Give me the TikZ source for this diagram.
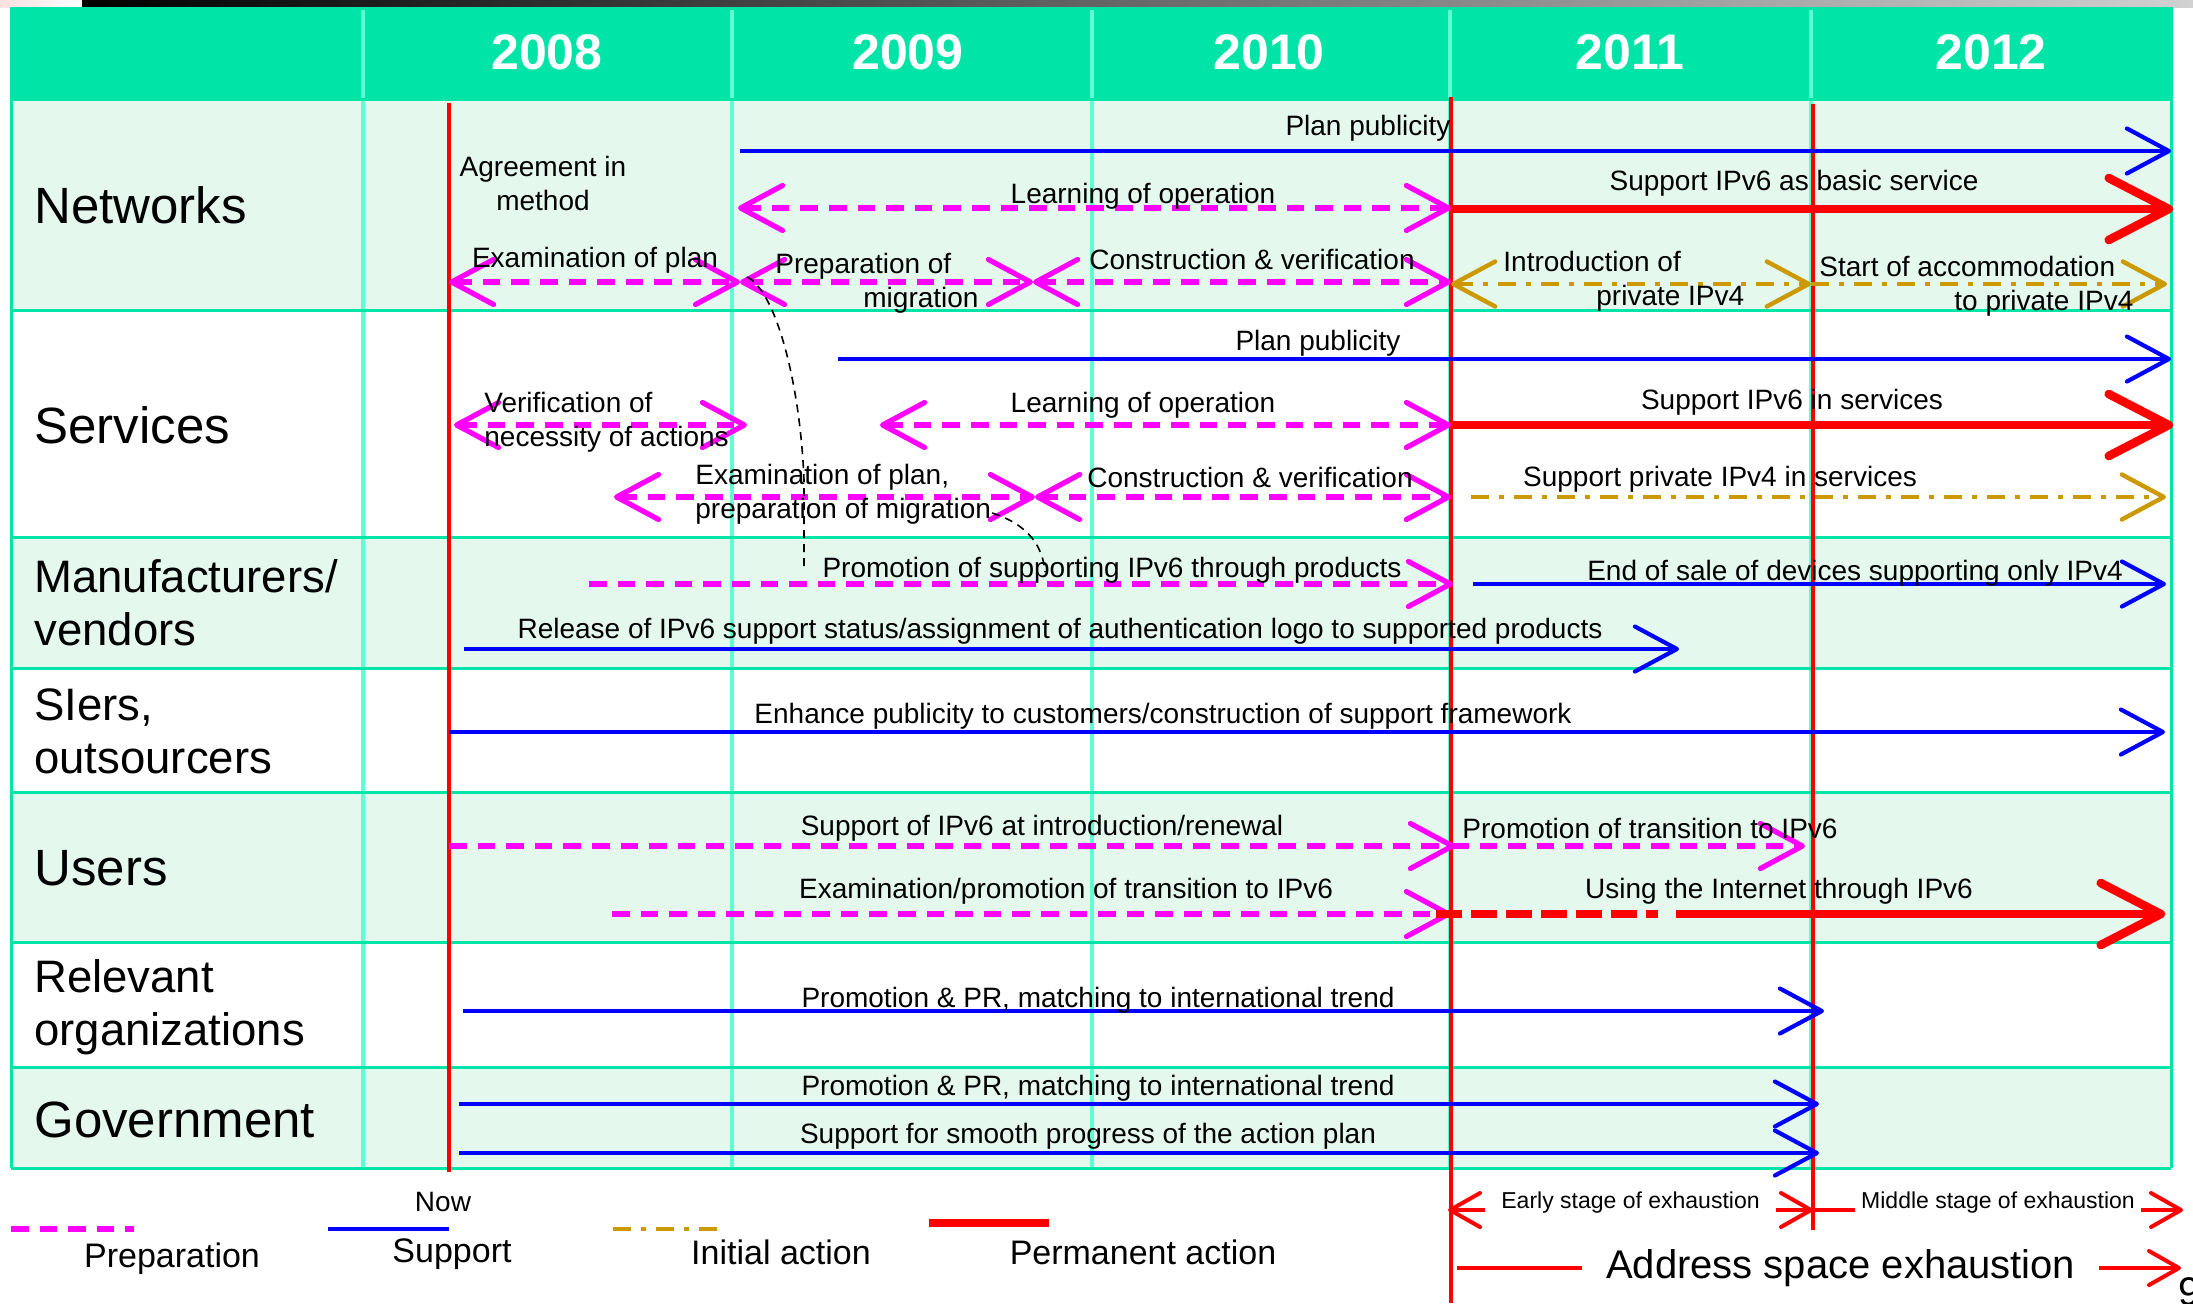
\documentclass[tikz,border=0pt]{standalone}
\usepackage{fontspec}
\setmainfont{Liberation Sans}
\usetikzlibrary{arrows.meta}
\definecolor{headgreen}{RGB}{0,228,168}
\definecolor{rowgreen}{RGB}{228,248,238}
\definecolor{gridaqua}{RGB}{95,255,212}
\definecolor{prepmag}{RGB}{255,0,255}
\definecolor{suppblue}{RGB}{0,0,255}
\definecolor{initgold}{RGB}{204,153,0}
\begin{document}
\begin{tikzpicture}[x=0.5pt,y=-0.5pt,every node/.style={inner sep=0pt},
		lbl/.style={font=\fontsize{14}{17}\selectfont,text height=10pt,text depth=0pt},
		lbltwo/.style={font=\fontsize{14}{17}\selectfont,align=left,anchor=west},
		rowname/.style={anchor=west,align=left,font=\fontsize{25.5}{30}\selectfont},
		rowtwo/.style={anchor=west,align=left,font=\fontsize{22.75}{26.5}\selectfont},
		lgnd/.style={font=\fontsize{17}{20}\selectfont,text height=12.2pt,text depth=0pt},
		stage/.style={fill=white,text=black,inner ysep=2pt,yshift=3.5pt,font=\fontsize{11.5}{13}\selectfont},
		prep/.style={prepmag,line width=2.6pt,dash pattern=on 8.8pt off 5.5pt},
		supp/.style={suppblue,line width=2.1pt},
		init/.style={initgold,line width=2.2pt,dash pattern=on 9pt off 5pt on 2.5pt off 5pt},
		perm/.style={red,line width=4.3pt},
		nowline/.style={red,line width=2.3pt},
		barb/.tip={Straight Barb[length=21pt,width=22.5pt,round]},
		bigbarb/.tip={Straight Barb[length=30pt,width=31pt,round]},
		smallbarb/.tip={Straight Barb[length=15pt,width=17pt,round]}]
	\useasboundingbox (0,0) rectangle (2193,1303);
	% top bar
	\shade[left color=red!12,right color=white] (0,0) rectangle (82,7);
	\shade[left color=black,right color=black!18] (82,0) rectangle (2193,7);
	% table
	\fill[headgreen] (11,7) rectangle (2171,99);
	\foreach \ya/\yb/\c in {99/310/rowgreen, 310/537/white, 537/668/rowgreen, 668/792/white,
		792/942/rowgreen, 942/1067/white, 1067/1168/rowgreen}
		\fill[\c] (11,\ya) rectangle (2171,\yb);
	\foreach \x in {363,732,1092,1450,1811}
		\draw[gridaqua,line width=2pt] (\x,10) -- (\x,1168);
	\foreach \y in {99,310,537,668,792,942,1067,1168}
		\draw[headgreen,line width=1.5pt] (11,\y) -- (2171,\y);
	\draw[headgreen,line width=1.5pt] (11,7) -- (11,1168) (2171,7) -- (2171,1168);
	\foreach \yr [count=\i] in {2008,...,2012}
		\node[white,font=\bfseries\fontsize{25}{30}\selectfont] (y\yr) at ({547+361*(\i-1)},52) {\yr};
	% row names
	\node[rowname] (networks) at (34,205) {Networks};
	\node[rowname] (services) at (34,425) {Services};
	\node[rowtwo] (makers) at (34,603) {Manufacturers/\\vendors};
	\node[rowtwo] (siers) at (34,731) {SIers,\\outsourcers};
	\node[rowname] (users) at (34,868) {Users};
	\node[rowtwo] (relorgs) at (34,1007) {Relevant\\organizations};
	\node[rowname] (govt) at (34,1120) {Government};
	% now and exhaustion lines
	\draw[nowline] (449,103) -- (449,1172);
	\draw[nowline] (1451,97) -- (1451,1303);
	\draw[nowline] (1813,104) -- (1813,1230);
	% Networks
	\draw[supp,-barb] (740,151) -- (2171,151);
	\draw[prep,barb-barb] (738,208) -- (1451,208);
	\draw[perm,-bigbarb] (1451,209) -- (2173,209);
	\draw[prep,barb-barb] (449,282) -- (740,282);
	\draw[prep,barb-barb] (740,282) -- (1033,282);
	\draw[prep,barb-barb] (1033,282) -- (1451,282);
	\draw[init,barb-barb] (1451,284) -- (1811,284);
	\draw[init,-barb] (1811,284) -- (2167,284);
	\node[lbltwo,align=center,anchor=center] (agree) at (543,183) {Agreement in\\method};
	\node[lbltwo] (netprep) at (775,283) {Preparation of\\\hspace*{44pt}migration};
	\node[lbltwo] (netintro) at (1503,281) {Introduction of\\\hspace*{46.5pt}private IPv4};
	\node[lbltwo] (netstart) at (1819,286) {Start of accommodation\\\hspace*{67.5pt}to private IPv4};
	% Services
	\draw[supp,-barb] (838,359) -- (2171,359);
	\draw[prep,barb-barb] (454,425) -- (747,425);
	\draw[prep,barb-barb] (880,425) -- (1451,425);
	\draw[perm,-bigbarb] (1451,425) -- (2173,425);
	\draw[prep,barb-barb] (614,497) -- (1035,497);
	\draw[prep,barb-barb] (1035,497) -- (1451,497);
	\draw[init,-barb] (1471,497) -- (2166,497);
	\node[lbltwo] (srvverif) at (484,422) {Verification of\\necessity of actions};
	\node[lbltwo] (srvexam) at (695,494) {Examination of plan,\\preparation of migration};
	% links
	\draw[line width=0.8pt,dash pattern=on 4pt off 3pt] (747,277) .. controls (775,290) and (800,380) .. (804,480) -- (804,567);
	\draw[line width=0.8pt,dash pattern=on 4pt off 3pt] (992,513) .. controls (1030,525) and (1043,548) .. (1045,572);
	% Manufacturers/vendors
	\draw[prep,-barb] (589,584) -- (1453,584);
	\draw[supp,-barb] (1473,584) -- (2166,584);
	\draw[supp,-barb] (464,649) -- (1679,649);
	% SIers
	\draw[supp,-barb] (449,732) -- (2165,732);
	% Users
	\draw[prep,-barb] (449,846) -- (1455,846);
	\draw[prep,-barb] (1451,846) -- (1805,846);
	\draw[prep,-barb] (612,914) -- (1451,914);
	\draw[red,line width=4.3pt,dash pattern=on 13pt off 4.5pt] (1436,914) -- (1658,914);
	\draw[perm,-bigbarb] (1676,914) -- (2165,914);
	% Relevant organizations, Government
	\draw[supp,-barb] (463,1011) -- (1824,1011);
	\draw[supp,-barb] (459,1104) -- (1819,1104);
	\draw[supp,-barb] (459,1153) -- (1819,1153);
	% one-line labels
	\foreach \n/\x/\y/\t in {netpub/1368/125/{Plan publicity}, netlearn/1143/193/{Learning of operation},
		netbasic/1794/180/{Support IPv6 as basic service}, netexam/595/257/{Examination of plan},
		netcons/1252/259/{Construction \& verification}, srvpub/1318/340/{Plan publicity},
		srvlearn/1143/402/{Learning of operation}, srvipv6/1792/399/{Support IPv6 in services},
		srvcons/1250/477/{Construction \& verification}, srvpriv/1720/476/{Support private IPv4 in services},
		mfrpromo/1112/567/{Promotion of supporting IPv6 through products},
		mfrend/1855/570/{End of sale of devices supporting only IPv4},
		mfrrel/1060/628/{Release of IPv6 support status/assignment of authentication logo to supported products},
		sienh/1163/713/{Enhance publicity to customers/construction of support framework},
		usrsup/1042/825/{Support of IPv6 at introduction/renewal},
		usrprom/1650/828/{Promotion of transition to IPv6},
		usrexam/1066/888/{Examination/promotion of transition to IPv6},
		usruse/1779/888/{Using the Internet through IPv6},
		relprom/1098/997/{Promotion \& PR, matching to international trend},
		govprom/1098/1085/{Promotion \& PR, matching to international trend},
		govsmooth/1088/1133/{Support for smooth progress of the action plan}}
		\node[lbl] (\n) at (\x,\y) {\t};
	% legend
	\draw[prep] (11,1229) -- (134,1229);
	\draw[supp] (328,1229) -- (449,1229);
	\draw[init] (613,1229) -- (725,1229);
	\draw[red,line width=4.3pt] (929,1223) -- (1049,1223);
	\foreach \n/\x/\y/\t in {lgprep/172/1255/Preparation, lgsupp/452/1250/Support,
		lginit/781/1252/{Initial action}, lgperm/1143/1252/{Permanent action}}
		\node[lgnd] (\n) at (\x,\y) {\t};
	\node[lbl] (lgnow) at (443,1201) {Now};
	% exhaustion stages
	\draw[red,line width=2pt,smallbarb-smallbarb] (1448,1210) -- node[stage,inner xsep=8pt] (early) {Early stage of exhaustion} (1813,1210);
	\draw[red,line width=2pt,-smallbarb] (1813,1210) -- node[stage,inner xsep=3pt] (middle) {Middle stage of exhaustion} (2183,1210);
	\draw[red,line width=2pt,-smallbarb] (1457,1268) -- node[pos=0.53,fill=white,text=black,inner xsep=12pt,font=\fontsize{20}{24}\selectfont] (addr) {Address space exhaustion} (2181,1268);
	\node[anchor=west,font=\fontsize{20}{24}\selectfont] (pagenum) at (2178,1292) {9};
\end{tikzpicture}
\end{document}
